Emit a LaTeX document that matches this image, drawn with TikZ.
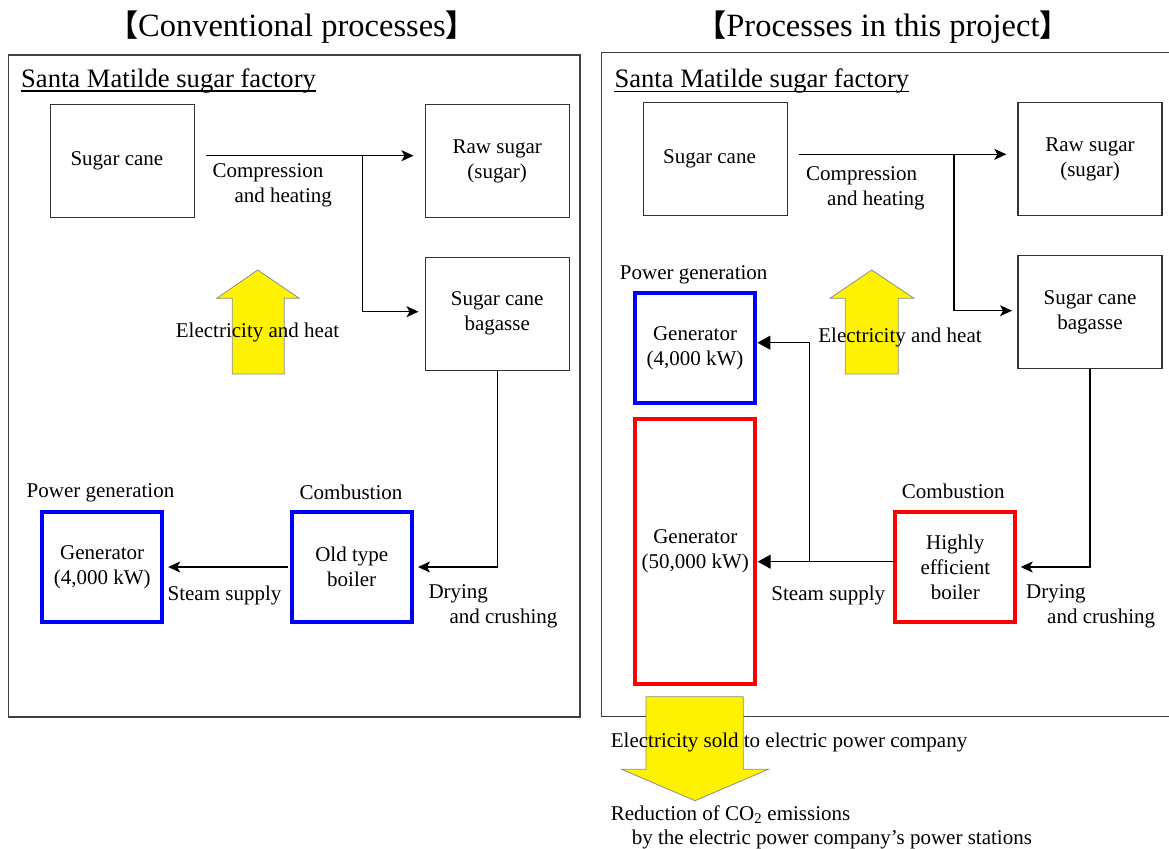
\documentclass[tikz,border=0pt]{standalone}
\usepackage{fontspec}
\setmainfont{Liberation Serif}
\newfontfamily\cjk{Noto Sans CJK SC}
\usetikzlibrary{arrows.meta}

\newcommand{\diagfont}{\fontsize{21}{25}\selectfont}
\newcommand{\headfont}{\fontsize{32.5}{38}\selectfont}
\newcommand{\factfont}{\fontsize{26.6}{31}\selectfont}
\newcommand{\lbrk}{{\cjk\bfseries\fontsize{30}{34}\selectfont 【}}
\newcommand{\rbrk}{{\cjk\bfseries\fontsize{30}{34}\selectfont 】}}

\tikzset{
    panel/.style={draw=black!75, line width=1.3pt},
    box/.style={draw=black!80, line width=1.1pt, minimum width=144pt, minimum height=113pt,
        inner sep=0pt, outer sep=0pt, align=center, font=\diagfont},
    bluebox/.style={box, draw=blue, line width=4pt, minimum width=120pt, minimum height=110pt},
    redbox/.style={bluebox, draw=red},
    flow/.style={line width=1.2pt, -{Stealth[length=12pt,width=11pt,inset=3pt]}},
    steam/.style={line width=1.2pt, -{Triangle[length=13pt,width=14pt]}},
    lbl/.style={font=\diagfont, inner sep=0pt, align=left},
    bigarrow/.style={fill=yellow, draw=black!45, line width=0.8pt}
}

\begin{document}
\begin{tikzpicture}[x=1pt, y=-1pt]
    \useasboundingbox (0,0) rectangle (1169,848);

    \draw[panel] (8.3,55) rectangle (580,717);
    \draw[panel] (601.7,52.7) rectangle (1180,716.7);

    \node[font=\headfont, inner sep=0pt, anchor=base] (ltitle) at (292,36.7) {\lbrk Conventional processes\rbrk};
    \node[font=\headfont, inner sep=0pt, anchor=base] (rtitle) at (883,36.7) {\lbrk Processes in this project\rbrk};

    \node[font=\factfont, inner sep=0pt, anchor=base west] (lfact) at (21,87.7) {Santa Matilde sugar factory};
    \node[font=\factfont, inner sep=0pt, anchor=base west] (rfact) at (614.3,88) {Santa Matilde sugar factory};
    \draw[line width=1.3pt] ([yshift=-3.3pt]lfact.base west) -- ([yshift=-3.3pt]lfact.base east);
    \draw[line width=1.3pt] ([yshift=-3.3pt]rfact.base west) -- ([yshift=-3.3pt]rfact.base east);

    % conventional processes
    \node[box] (lcane) at (122.9,161) {Sugar cane\hspace*{12pt}};
    \node[box] (lraw) at (497.2,161) {Raw sugar\\(sugar)};
    \node[box] (lbag) at (497.2,313.7) {Sugar cane\\bagasse};
    \node[bluebox] (lboil) at (351.7,567) {Old type\\boiler};
    \node[bluebox] (lgen) at (102.2,567) {Generator\\(4,000 kW)};

    \coordinate (lfork) at (362.3,155.7);
    \draw[flow, shorten <=10.7pt, shorten >=11.7pt] (lcane.east |- lfork) -- (lraw.west |- lfork);
    \draw[flow, shorten >=6.7pt] (lfork) |- ([yshift=2pt]lbag.west);
    \draw[flow, shorten >=6.3pt] (lbag.south) |- (lboil.east);
    \draw[flow, shorten <=4pt, shorten >=6pt] (lboil.west) -- (lgen.east);

    \draw[bigarrow] (232.3,374) -- (232.3,298.3) -- (216.7,298.3) -- (257.7,270)
        -- (299.3,298.3) -- (284.3,298.3) -- (284.3,374) -- cycle;

    \node[lbl, anchor=west] (lcomp) at (212.3,185) {Compression\\\hspace*{22pt}and heating};
    \node[lbl] (lheat) at (257.5,332) {Electricity and heat};
    \node[lbl] (lpow) at (100.5,492.7) {Power generation};
    \node[lbl] (lcomb) at (351,492.7) {Combustion};
    \node[lbl] (lsteam) at (224.5,595) {Steam supply};
    \node[lbl, anchor=west] (ldry) at (428.3,606) {Drying\\\hspace*{21pt}and crushing};

    % processes in this project
    \node[box] (rcane) at (715.5,159) {Sugar cane\hspace*{12pt}};
    \node[box] (rraw) at (1090,159) {Raw sugar\\(sugar)};
    \node[box] (rbag) at (1090,312) {Sugar cane\\bagasse};
    \node[redbox] (rboil) at (955.3,567) {Highly\\efficient\\boiler};
    \node[bluebox] (rgen4) at (695,348.3) {Generator\\(4,000 kW)};
    \node[redbox, minimum height=265pt] (rgen50) at (695.3,551.2) {Generator\\(50,000 kW)};

    \coordinate (rfork) at (954,154.3);
    \coordinate (rjoin) at (809.3,561.7);
    \draw[flow, shorten <=11.3pt, shorten >=11.7pt] (rcane.east |- rfork) -- (rraw.west |- rfork);
    \draw[flow, shorten >=6pt] (rfork) |- ([yshift=1.3pt]rbag.west);
    \draw[flow, shorten >=5.4pt] (rbag.south) |- (rboil.east);
    \draw[steam, shorten >=2.4pt] (rboil.west |- rjoin) -- (rgen50.east |- rjoin);
    \draw[steam, shorten >=2.4pt] (rjoin) |- ([yshift=5.6pt]rgen4.east);

    \draw[bigarrow] (845.3,374) -- (845.3,298.3) -- (830,298.3) -- (871.7,270)
        -- (914,298.3) -- (898.3,298.3) -- (898.3,374) -- cycle;
    \draw[bigarrow] (646,696.7) -- (743.3,696.7) -- (743.3,769.3) -- (768.3,769.3)
        -- (695,800.7) -- (621.7,769.3) -- (646,769.3) -- cycle;

    \node[lbl, anchor=west] (rcomp) at (806,188.5) {Compression\\\hspace*{21pt}and heating};
    \node[lbl] (rheat) at (900,337) {Electricity and heat};
    \node[lbl] (rpow) at (693.7,275) {Power generation};
    \node[lbl] (rcomb) at (953.3,491.7) {Combustion};
    \node[lbl] (rsteam) at (828.3,595) {Steam supply};
    \node[lbl, anchor=west] (rdry) at (1026,606) {Drying\\\hspace*{21pt}and crushing};

    \node[lbl, anchor=base west] (sold) at (610.7,747.3) {Electricity sold to electric power company};
    \node[lbl, anchor=base west] (cut) at (610.7,820) {Reduction of CO\textsubscript{2} emissions};
    \node[lbl, anchor=base west] (cutby) at (631.7,844) {by the electric power company’s power stations};
\end{tikzpicture}
\end{document}
